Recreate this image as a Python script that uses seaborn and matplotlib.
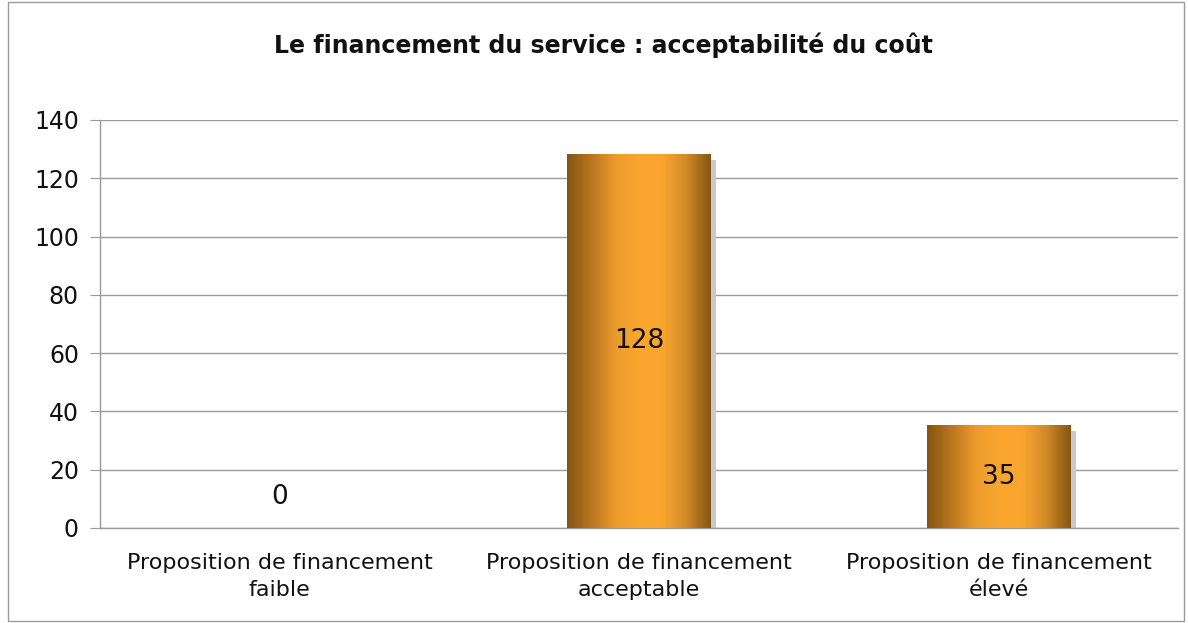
import numpy as np
import pandas as pd
import matplotlib
matplotlib.use('Agg')
import matplotlib.pyplot as plt
import seaborn as sns
from matplotlib.colors import LinearSegmentedColormap
from matplotlib.patches import Rectangle

# data
categories = ['Proposition de financement\nfaible',
              'Proposition de financement\nacceptable',
              'Proposition de financement\nélevé']
values = [0, 128, 35]
yticks = [0, 20, 40, 60, 80, 100, 120, 140]
title = 'Le financement du service : acceptabilité du coût'

df = pd.DataFrame({'cat': categories, 'val': values})

sns.set_style('white')
plt.rcParams['font.family'] = ['DejaVu Sans']

fig = plt.figure(figsize=(11.88, 6.23), dpi=100)
ax = fig.add_axes([0.084, 0.1525, 0.908, 0.655])

sns.barplot(data=df, x='cat', y='val', width=0.4, color='#f9a52e', ax=ax)

# gradient fill + shadow for each bar
cmap = LinearSegmentedColormap.from_list(
    'bronze', ['#845512', '#b8761f', '#eb9b2c', '#fba72f', '#f9a52e', '#d08a27', '#845512'])
grad = np.linspace(0, 1, 256).reshape(1, -1)
for p in ax.patches:
    x, w, h = p.get_x(), p.get_width(), p.get_height()
    if h <= 0:
        p.set_visible(False)
        continue
    ax.add_patch(Rectangle((x + 0.014, 0), w, h - 1.7, facecolor='#c9c9c9',
                           edgecolor='none', zorder=2))
    ax.imshow(grad, cmap=cmap, extent=[x, x + w, 0, h], aspect='auto',
              zorder=3, interpolation='bicubic')
    p.set_visible(False)

# value labels
for i, v in enumerate(values):
    ypos = v / 2 if v > 0 else 10.5
    ax.text(i, ypos, str(v), ha='center', va='center', fontsize=19,
            color='#111111', zorder=5)

ax.set_xlim(-0.5, 2.5)
ax.set_ylim(0, 140)
ax.set_yticks(yticks)
ax.set_yticklabels([str(t) for t in yticks], fontsize=17)
ax.yaxis.grid(True, color='#9a9a9a', linewidth=1)
ax.set_axisbelow(True)

ax.set_xticks([-0.5, 0.5, 1.5, 2.5])
ax.set_xticklabels([])
ax.set_xticks([0, 1, 2], minor=True)
ax.set_xticklabels(categories, minor=True, fontsize=16, color='#111111',
                   linespacing=1.45)
ax.tick_params(axis='x', which='minor', length=0, pad=18)
ax.tick_params(axis='x', which='major', length=7, color='#9a9a9a', direction='out')
ax.tick_params(axis='y', length=7, color='#9a9a9a', direction='out', pad=8,
               labelcolor='#111111', left=True)
ax.set_xlabel('')
ax.set_ylabel('')

for side in ['top', 'right']:
    ax.spines[side].set_visible(False)
for side in ['left', 'bottom']:
    ax.spines[side].set_color('#9a9a9a')
    ax.spines[side].set_linewidth(1)

fig.text(0.508, 0.928, title, ha='center', va='center', fontsize=17,
         fontweight='bold', color='#111111')

# outer frame
fig.patches.append(Rectangle((0.007, 0.004), 0.99, 0.992, transform=fig.transFigure,
                             fill=False, edgecolor='#9a9a9a', linewidth=1))

fig.savefig('out.png', dpi=100)
